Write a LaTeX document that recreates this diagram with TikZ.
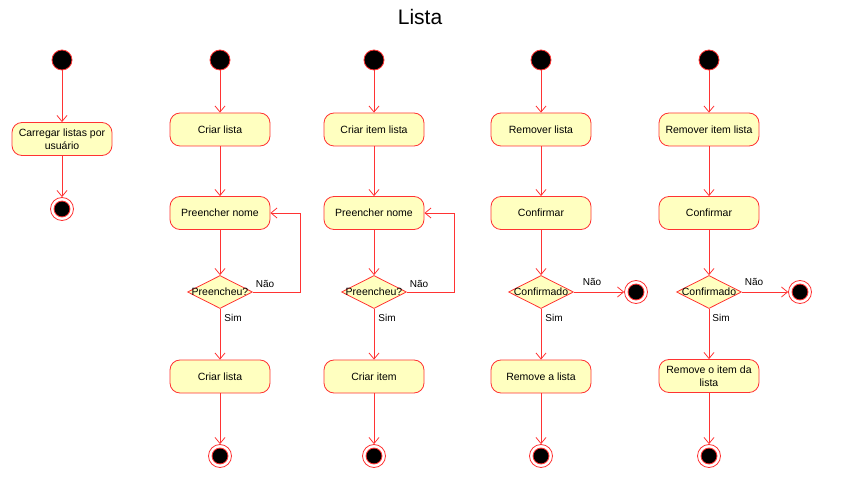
\documentclass[tikz,border=0pt]{standalone}
\usepackage{fontspec}
\setmainfont{Liberation Sans}
\usetikzlibrary{arrows.meta,shapes.geometric}
\definecolor{umlred}{HTML}{FF3333}
\definecolor{umlfill}{HTML}{FFFFC0}
\tikzset{
  x=1pt,y=-1pt,
  act/.style={draw=umlred,fill=umlfill,rounded corners=10pt,minimum width=100pt,minimum height=33pt,inner sep=1pt,align=center,font=\fontsize{10.5}{13}\selectfont,line width=0.8pt},
  dec/.style={draw=umlred,fill=umlfill,diamond,minimum width=65pt,minimum height=33pt,inner sep=0pt,font=\fontsize{10.5}{13}\selectfont,line width=0.8pt},
  startn/.style={circle,draw=umlred,fill=black,minimum size=20pt,inner sep=0pt,line width=0.8pt},
  endn/.style={circle,draw=umlred,fill=white,minimum size=23pt,inner sep=0pt,line width=0.8pt,
     path picture={\fill[umlred] (path picture bounding box.center) circle (8.4pt);\fill[black] (path picture bounding box.center) circle (7.4pt);}},
  arr/.style={draw=umlred,line width=0.8pt,-{Straight Barb[length=6pt,width=10pt]}},
  lbl/.style={font=\fontsize{10}{12}\selectfont,inner sep=0pt}
}
\begin{document}
\begin{tikzpicture}
\useasboundingbox (0,0) rectangle (855,489);
\node[font=\fontsize{21}{25}\selectfont] (title) at (420,17) {Lista};
% column 1
\node[startn] (s1) at (62,60) {};
\node[act] (a1) at (62,139) {Carregar listas por\\usuário};
\node[endn] (e1) at (62,209) {};
\draw[arr] (s1) -- (a1);
\draw[arr] (a1) -- (e1);
% column 2
\node[startn] (s2) at (220,60) {};
\node[act] (b2) at (220,129.5) {Criar lista};
\node[act] (p2) at (220,213) {Preencher nome};
\node[dec] (d2) at (220,292) {\makebox[0pt]{Preencheu?}};
\node[act] (c2) at (220,376.5) {Criar lista};
\node[endn] (e2) at (220,456) {};
\draw[arr] (s2) -- (b2);
\draw[arr] (b2) -- (p2);
\draw[arr] (p2) -- (d2);
\draw[arr] (d2.east) -- ++(47,0) |- (p2.east);
\draw[arr] (d2) -- (c2);
\draw[arr] (c2) -- (e2);
\node[lbl] (n2) at (265,284) {Não};
\node[lbl] (y2) at (233,318) {Sim};
% column 3
\node[startn] (s3) at (374,60) {};
\node[act] (b3) at (374,129.5) {Criar item lista};
\node[act] (p3) at (374,213) {Preencher nome};
\node[dec] (d3) at (374,292) {\makebox[0pt]{Preencheu?}};
\node[act] (c3) at (374,376.5) {Criar item};
\node[endn] (e3) at (374,456) {};
\draw[arr] (s3) -- (b3);
\draw[arr] (b3) -- (p3);
\draw[arr] (p3) -- (d3);
\draw[arr] (d3.east) -- ++(47,0) |- (p3.east);
\draw[arr] (d3) -- (c3);
\draw[arr] (c3) -- (e3);
\node[lbl] (n3) at (419,284) {Não};
\node[lbl] (y3) at (387,318) {Sim};
% column 4
\node[startn] (s4) at (541,60) {};
\node[act] (b4) at (541,129.5) {Remover lista};
\node[act] (p4) at (541,213) {Confirmar};
\node[dec] (d4) at (541,292) {\makebox[0pt]{Confirmado}};
\node[endn] (x4) at (636,292) {};
\node[act] (c4) at (541,376.5) {Remove a lista};
\node[endn] (e4) at (541,456) {};
\draw[arr] (s4) -- (b4);
\draw[arr] (b4) -- (p4);
\draw[arr] (p4) -- (d4);
\draw[arr] (d4.east) -- (x4);
\draw[arr] (d4) -- (c4);
\draw[arr] (c4) -- (e4);
\node[lbl] (n4) at (592,282) {Não};
\node[lbl] (y4) at (554,318) {Sim};
% column 5
\node[startn] (s5) at (709,60) {};
\node[act] (b5) at (709,129.5) {Remover item lista};
\node[act] (p5) at (709,213) {Confirmar};
\node[dec] (d5) at (709,292) {\makebox[0pt]{Confirmado}};
\node[endn] (x5) at (800,292) {};
\node[act] (c5) at (709,376) {Remove o item da\\lista};
\node[endn] (e5) at (709,456) {};
\draw[arr] (s5) -- (b5);
\draw[arr] (b5) -- (p5);
\draw[arr] (p5) -- (d5);
\draw[arr] (d5.east) -- (x5);
\draw[arr] (d5) -- (c5);
\draw[arr] (c5) -- (e5);
\node[lbl] (n5) at (754,282) {Não};
\node[lbl] (y5) at (721,318) {Sim};
\end{tikzpicture}
\end{document}
